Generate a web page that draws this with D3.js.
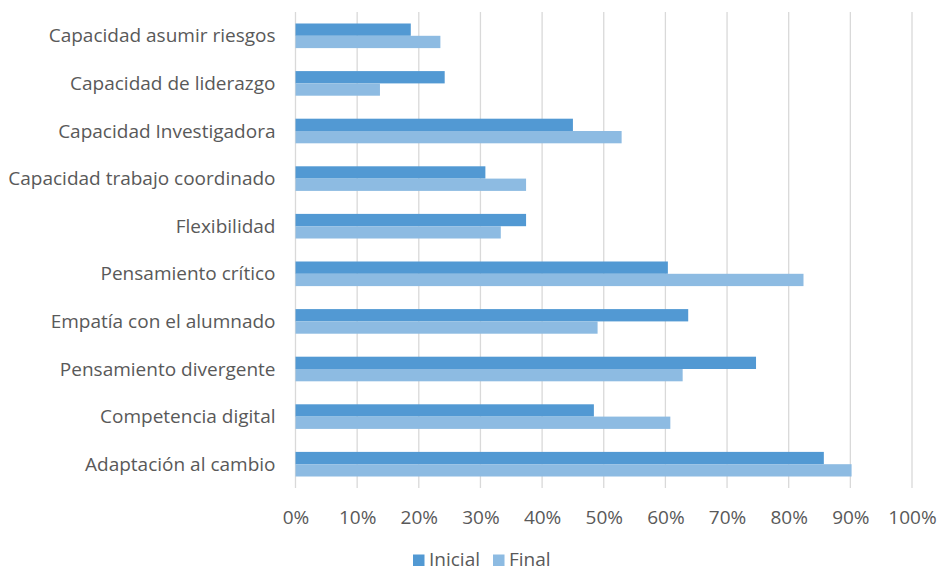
<!DOCTYPE html>
<html>
<head>
<meta charset="utf-8">
<script src="https://cdn.jsdelivr.net/npm/d3@7"></script>
<style>
  body { margin: 0; background: #fff; }
  #chart { width: 937px; height: 572px; }
  text { font-family: "Open Sans", Lato, sans-serif; fill: #595959; }
</style>
</head>
<body>
<div id="chart"></div>
<script>
const categories = [
  'Capacidad asumir riesgos',
  'Capacidad de liderazgo',
  'Capacidad Investigadora',
  'Capacidad trabajo coordinado',
  'Flexibilidad',
  'Pensamiento crítico',
  'Empatía con el alumnado',
  'Pensamiento divergente',
  'Competencia digital',
  'Adaptación al cambio'
];
const inicial = [18.7, 24.2, 45.0, 30.8, 37.4, 60.4, 63.7, 74.7, 48.4, 85.7];
const final = [23.5, 13.7, 52.9, 37.4, 33.3, 82.4, 49.0, 62.8, 60.8, 90.2];
const seriesNames = ['Inicial', 'Final'];
const seriesColors = ['#5299d3', '#8dbbe2'];
const xTicks = [0, 10, 20, 30, 40, 50, 60, 70, 80, 90, 100];

const width = 937;
const height = 572;
const margin = { top: 12, right: 25, bottom: 84, left: 295.5 };
const fontSize = '19px';

const svg = d3.select('#chart')
  .append('svg')
  .attr('width', width)
  .attr('height', height);

const xScale = d3.scaleLinear()
  .domain([0, 100])
  .range([margin.left, width - margin.right]);

const yScale = d3.scaleBand()
  .domain(categories)
  .range([margin.top, height - margin.bottom])
  .paddingInner(0.483)
  .paddingOuter(0.2415);

const subScale = d3.scaleBand()
  .domain(seriesNames)
  .range([0, yScale.bandwidth()]);

// gridlines
svg.append('g')
  .selectAll('line')
  .data(xTicks)
  .enter()
  .append('line')
  .attr('x1', d => xScale(d))
  .attr('x2', d => xScale(d))
  .attr('y1', margin.top)
  .attr('y2', height - margin.bottom)
  .attr('stroke', '#d9d9d9')
  .attr('stroke-width', 1.3);

// bars
const rows = categories.map((c, i) => ({ cat: c, values: [inicial[i], final[i]] }));

const groups = svg.append('g')
  .selectAll('g')
  .data(rows)
  .enter()
  .append('g')
  .attr('transform', d => `translate(0, ${yScale(d.cat)})`);

groups.selectAll('rect')
  .data(d => d.values.map((v, j) => ({ name: seriesNames[j], value: v, color: seriesColors[j] })))
  .enter()
  .append('rect')
  .attr('x', xScale(0))
  .attr('y', d => subScale(d.name))
  .attr('width', d => xScale(d.value) - xScale(0))
  .attr('height', subScale.bandwidth())
  .attr('fill', d => d.color);

// category labels
svg.append('g')
  .selectAll('text')
  .data(categories)
  .enter()
  .append('text')
  .attr('x', margin.left - 20)
  .attr('y', d => yScale(d) + yScale.bandwidth() / 2)
  .attr('dy', '0.35em')
  .attr('text-anchor', 'end')
  .style('font-size', fontSize)
  .text(d => d);

// x axis tick labels
const xAxis = d3.axisBottom(xScale)
  .tickValues(xTicks)
  .tickSize(0)
  .tickPadding(0)
  .tickFormat(d => d + '%');

const axisG = svg.append('g')
  .attr('transform', `translate(0, ${height - margin.bottom + 22.5})`)
  .call(xAxis);
axisG.select('.domain').remove();
axisG.selectAll('text')
  .style('font-size', fontSize)
  .style('font-family', '"Open Sans", Lato, sans-serif')
  .attr('fill', '#595959');

// legend
const legend = svg.append('g')
  .attr('transform', `translate(413, 566)`);

let offset = 0;
seriesNames.forEach((name, i) => {
  const item = legend.append('g').attr('transform', `translate(${offset}, 0)`);
  item.append('rect')
    .attr('x', 0)
    .attr('y', -11.5)
    .attr('width', 11.5)
    .attr('height', 11.5)
    .attr('fill', seriesColors[i]);
  const t = item.append('text')
    .attr('x', 16)
    .attr('y', 0)
    .style('font-size', fontSize)
    .text(name);
  offset += 16 + t.node().getComputedTextLength() + 13;
});
</script>
</body>
</html>
